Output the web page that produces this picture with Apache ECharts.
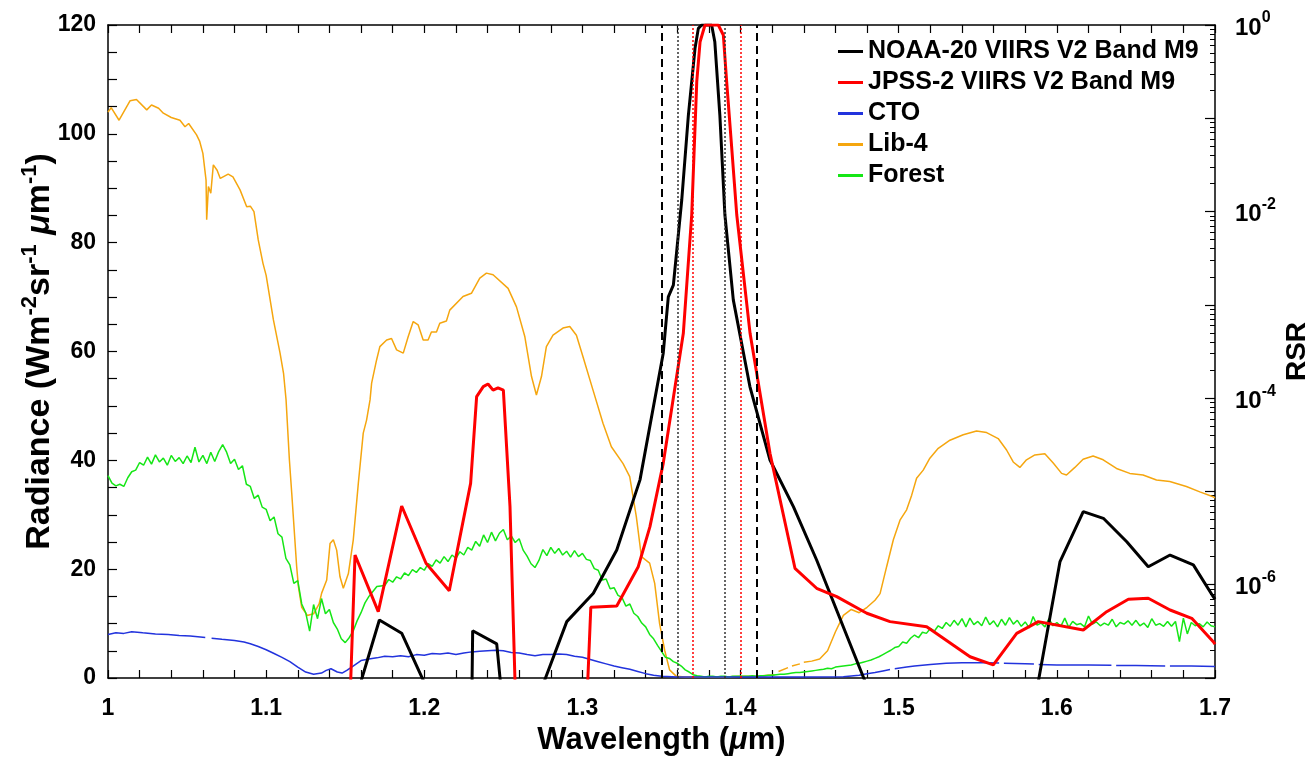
<!DOCTYPE html>
<html>
<head>
<meta charset="utf-8">
<script src="https://cdn.jsdelivr.net/npm/echarts@6/dist/echarts.min.js"></script>
<style>
  html, body { margin: 0; padding: 0; background: #fff; }
  #chart { width: 1314px; height: 759px; }
</style>
</head>
<body>
<div id="chart"></div>
<script>
// ---- Relative spectral response (RSR), right log axis: [wavelength µm, RSR] ----
const noaa20Rsr = [
  [1.1430, 1.0e-8], [1.1716, 4.19e-7], [1.1857, 3.02e-7], [1.2257, 1.0e-8],
  [1.2295, 1.0e-8], [1.2306, 3.21e-7], [1.2458, 2.32e-7], [1.2536, 1.0e-8],
  [1.2650, 3.0e-8], [1.2901, 4.02e-7], [1.3069, 8.09e-7], [1.3217, 2.36e-6],
  [1.3364, 1.33e-5], [1.3511, 3.03e-4], [1.3543, 1.22e-3], [1.3575, 1.63e-3],
  [1.3628, 1.33e-2], [1.3670, 0.108], [1.3712, 0.562], [1.3733, 0.92],
  [1.3754, 1.0], [1.3817, 1.0], [1.3837, 0.662], [1.3869, 0.108],
  [1.3901, 9.19e-3], [1.3954, 1.13e-3], [1.4059, 1.33e-4], [1.4186, 2.17e-5],
  [1.4334, 6.87e-6], [1.4481, 1.84e-6], [1.5014, 1.0e-8],
  [1.5780, 1.0e-8], [1.6020, 1.77e-6], [1.6167, 6.07e-6], [1.6294, 5.15e-6],
  [1.6442, 2.89e-6], [1.6578, 1.56e-6], [1.6716, 2.08e-6], [1.6863, 1.63e-6],
  [1.6989, 7.44e-7], [1.7000, 7.0e-7]
];
const jpss2Rsr = [
  [1.1515, 1.0e-8], [1.1562, 2.08e-6], [1.1709, 5.14e-7], [1.1857, 6.98e-6],
  [1.2011, 1.70e-6], [1.2158, 8.63e-7], [1.2293, 1.22e-5], [1.2331, 1.04e-4],
  [1.2373, 1.33e-4], [1.2403, 1.42e-4], [1.2435, 1.22e-4], [1.2466, 1.29e-4],
  [1.2500, 1.22e-4], [1.2542, 6.87e-6], [1.2590, 1.0e-8],
  [1.3010, 1.0e-8], [1.3053, 5.73e-7], [1.3217, 5.92e-7], [1.3353, 1.56e-6],
  [1.3427, 4.19e-6], [1.3511, 2.00e-5], [1.3638, 4.95e-4], [1.3691, 9.19e-3],
  [1.3723, 0.247], [1.3744, 0.662], [1.3775, 1.0], [1.3859, 1.0],
  [1.3891, 0.781], [1.3912, 0.247], [1.3944, 4.81e-2], [1.3976, 9.19e-3],
  [1.4060, 4.95e-4], [1.4186, 2.56e-5], [1.4344, 1.50e-6], [1.4481, 9.16e-7],
  [1.4608, 7.45e-7], [1.4798, 4.94e-7], [1.4945, 4.02e-7], [1.5177, 3.55e-7],
  [1.5451, 1.69e-7], [1.5598, 1.38e-7], [1.5746, 3.01e-7], [1.5883, 4.02e-7],
  [1.6167, 3.27e-7], [1.6315, 5.14e-7], [1.6452, 6.98e-7], [1.6578, 7.16e-7],
  [1.6716, 5.36e-7], [1.6853, 4.36e-7], [1.6989, 2.45e-7], [1.7000, 2.3e-7]
];

// ---- TOA radiance spectra, left axis: [wavelength µm, W m-2 sr-1 µm-1] ('-' = no data) ----
const ctoRadiance = [
  [1.000, 8.0], [1.005, 8.3], [1.010, 8.2], [1.015, 8.5], [1.022, 8.3], [1.030, 8.1],
  [1.038, 8.0], [1.045, 7.8], [1.052, 7.7], [1.060, 7.5], [1.0615, 7.45], [1.0625, '-'],
  [1.0655, 7.3], [1.072, 7.1], [1.080, 6.9], [1.086, 6.6], [1.090, 6.3], [1.095, 5.8],
  [1.100, 5.2], [1.105, 4.5], [1.110, 3.8], [1.115, 3.0], [1.120, 2.0], [1.125, 1.1],
  [1.130, 0.7], [1.135, 0.9], [1.138, 1.4], [1.141, 1.7], [1.145, 1.1], [1.148, 0.9],
  [1.151, 1.4], [1.155, 2.2], [1.160, 3.2], [1.165, 3.5], [1.170, 3.7], [1.175, 4.0],
  [1.180, 3.9], [1.185, 4.1], [1.190, 3.9], [1.195, 4.3], [1.200, 4.2], [1.205, 4.5],
  [1.210, 4.4], [1.215, 4.6], [1.220, 4.3], [1.225, 4.6], [1.230, 4.8], [1.235, 4.9],
  [1.240, 5.0], [1.245, 5.1], [1.250, 5.0], [1.255, 4.7], [1.260, 4.6], [1.265, 4.3],
  [1.270, 4.1], [1.275, 4.3], [1.280, 4.3], [1.285, 4.4], [1.290, 4.3], [1.295, 4.0],
  [1.300, 3.8], [1.305, 3.4], [1.310, 3.0], [1.315, 2.6], [1.320, 2.2], [1.325, 1.9],
  [1.330, 1.6], [1.335, 1.2], [1.340, 0.8], [1.345, 0.5], [1.350, 0.3], [1.360, 0.2],
  [1.400, 0.2], [1.440, 0.2], [1.465, 0.25], [1.475, 0.5], [1.480, 0.8], [1.485, 1.0],
  [1.490, 1.3], [1.4945, 1.55], [1.4960, '-'], [1.4975, 1.7], [1.505, 2.0], [1.510, 2.2],
  [1.520, 2.5], [1.530, 2.7], [1.540, 2.8], [1.555, 2.8], [1.5635, 2.75], [1.5650, '-'],
  [1.5665, 2.7], [1.580, 2.6], [1.5855, 2.55], [1.5870, '-'], [1.5885, 2.5], [1.600, 2.4],
  [1.620, 2.4], [1.6345, 2.35], [1.6360, '-'], [1.6375, 2.3], [1.650, 2.3], [1.6685, 2.2],
  [1.6700, '-'], [1.6715, 2.2], [1.685, 2.2], [1.700, 2.1]
];
const lib4Radiance = [
  [1.000, 104.0], [1.002, 104.8], [1.007, 102.5], [1.014, 106.1], [1.018, 106.3],
  [1.0245, 104.4], [1.0275, 105.3], [1.032, 104.7], [1.035, 103.8], [1.040, 103.0],
  [1.0455, 102.5], [1.0487, 101.3], [1.051, 101.9], [1.056, 99.8], [1.058, 98.6],
  [1.060, 96.4], [1.062, 91.5], [1.0624, 84.2], [1.0635, 90.3], [1.065, 89.1],
  [1.0666, 94.3], [1.069, 93.3], [1.071, 91.8], [1.076, 92.6], [1.079, 92.1],
  [1.0835, 89.7], [1.0877, 86.6], [1.090, 86.7], [1.0923, 85.7], [1.095, 80.5],
  [1.098, 76.2], [1.100, 74.0], [1.1046, 65.8], [1.1088, 59.7], [1.111, 56.0],
  [1.1126, 51.1], [1.1147, 40.1], [1.1162, 33.9], [1.1193, 20.5], [1.1204, 16.8],
  [1.1225, 13.0], [1.126, 11.5], [1.130, 11.8], [1.1335, 13.6], [1.1351, 15.6],
  [1.1383, 18.0], [1.1404, 24.7], [1.1425, 25.4], [1.1446, 23.5], [1.1467, 18.6],
  [1.1488, 16.5], [1.152, 19.2], [1.1551, 25.4], [1.1583, 35.8], [1.1614, 45.0],
  [1.1635, 47.4], [1.1657, 51.1], [1.1667, 54.2], [1.1698, 58.4], [1.1719, 60.9],
  [1.1762, 62.1], [1.1793, 62.4], [1.1825, 60.3], [1.1867, 59.7], [1.1898, 62.7],
  [1.193, 65.5], [1.1961, 64.9], [1.1993, 62.1], [1.2024, 62.1], [1.2045, 63.6],
  [1.2077, 63.6], [1.2098, 65.2], [1.214, 65.6], [1.2161, 67.6], [1.2245, 70.1],
  [1.2298, 70.7], [1.2351, 73.5], [1.2393, 74.4], [1.2435, 74.1], [1.253, 71.6],
  [1.2583, 68.2], [1.2636, 62.7], [1.2678, 55.4], [1.2709, 52.0], [1.2741, 55.4],
  [1.2772, 60.9], [1.2814, 63.0], [1.2877, 64.3], [1.292, 64.6], [1.2962, 63.0],
  [1.3004, 59.0], [1.3067, 52.9], [1.313, 46.8], [1.3183, 42.5], [1.3257, 39.4],
  [1.3299, 37.0], [1.3341, 29.6], [1.3373, 22.3], [1.3425, 21.1], [1.3457, 17.4],
  [1.3488, 10.0], [1.352, 5.1], [1.3551, 1.5], [1.3594, 0.3], [1.365, 0.2],
  [1.375, 0.2], [1.390, 0.2], [1.400, 0.3], [1.410, 0.3], [1.4215, 0.6],
  [1.4228, '-'], [1.424, 1.2], [1.430, 1.9], [1.4313, '-'], [1.4325, 2.2],
  [1.4375, 2.6], [1.4386, '-'], [1.440, 2.9], [1.445, 3.1], [1.450, 3.5],
  [1.455, 5.0], [1.460, 8.5], [1.465, 11.5], [1.470, 12.6], [1.475, 12.0],
  [1.480, 13.0], [1.485, 14.3], [1.4882, 15.5], [1.4924, 20.5], [1.4966, 25.4],
  [1.5008, 29.0], [1.505, 30.9], [1.5082, 33.6], [1.5113, 36.7], [1.5155, 38.2],
  [1.5197, 40.4], [1.525, 42.2], [1.5324, 43.7], [1.5408, 44.7], [1.5492, 45.4],
  [1.5556, 45.1], [1.5629, 44.0], [1.5682, 41.9], [1.5724, 39.7], [1.5766, 38.7],
  [1.5808, 40.1], [1.5861, 41.0], [1.5924, 41.2], [1.5977, 39.5], [1.603, 37.6],
  [1.6061, 37.3], [1.6114, 38.7], [1.6166, 40.2], [1.6229, 40.8], [1.6293, 40.1],
  [1.6377, 38.5], [1.6461, 37.6], [1.6545, 37.3], [1.663, 36.4], [1.6714, 36.1],
  [1.6819, 35.2], [1.6904, 34.2], [1.6988, 33.3], [1.700, 33.1]
];
// Forest spectrum on a regular 2.5 nm grid starting at 1.0 µm
const forestStart = 1.0;
const forestStep = 0.0025;
const forestRadiance = [
  37.2, 35.8, 35.3, 35.6, 35.2, 36.8, 37.9, 38.2, 39.6, 39.1,
  40.6, 39.3, 41.0, 39.7, 40.4, 39.1, 40.9, 39.8, 40.5, 39.4,
  40.8, 39.6, 42.4, 39.7, 40.9, 39.4, 41.5, 39.8, 41.6, 42.9,
  41.5, 39.4, 40.2, 38.3, 39.0, 35.6, 35.2, 33.0, 33.6, 31.4,
  31.0, 28.9, 29.6, 26.5, 25.9, 22.0, 20.8, 17.4, 17.9, 13.6,
  12.0, 8.6, 13.5, 10.9, 14.6, 11.8, 12.6, 10.2, 9.0, 7.2,
  6.5, 7.4, 8.6, 10.5, 12.0, 13.8, 15.0, 15.9, 16.8, 16.9,
  17.0, 18.1, 17.6, 18.6, 18.2, 19.3, 18.8, 19.9, 19.4, 20.3,
  19.8, 21.0, 20.5, 21.7, 21.1, 22.3, 21.4, 22.6, 22.0, 23.2,
  22.6, 24.0, 23.5, 25.1, 24.2, 26.3, 24.9, 26.8, 25.2, 26.6,
  27.3, 25.4, 26.1, 24.9, 25.6, 23.5, 22.4, 21.0, 20.3, 21.6,
  23.6, 22.5, 24.0, 22.9, 23.8, 22.6, 23.3, 22.2, 23.4, 22.3,
  22.9, 21.8, 21.6, 20.1, 19.8, 18.0, 18.2, 16.4, 16.6, 15.2,
  14.8, 13.2, 13.6, 11.9, 11.3, 10.1, 9.4, 8.0, 7.2, 6.0,
  4.9, 3.8, 3.6, 3.0, 2.7, 2.2, 1.5, 1.1, 0.6, 0.4,
  0.3, 0.2, 0.3, 0.3, 0.2, 0.3, 0.3, 0.2, 0.3, 0.3,
  0.3, 0.3, 0.3, 0.4, 0.3, 0.4, 0.4, 0.5, 0.5, 0.6,
  0.7, 0.7, 0.8, 0.9, 1.0, 1.0, 1.1, 1.2, 1.3, 1.4,
  1.5, 1.6, 1.8, 1.7, 2.0, 2.1, 2.2, 2.3, 2.4, 2.6,
  2.7, 2.9, 3.1, 3.3, 3.6, 3.9, 4.3, 4.7, 5.1, 5.6,
  5.8, 6.6, 6.4, 7.3, 7.9, 7.4, 8.4, 8.2, 9.1, 8.6,
  9.6, 9.1, 10.2, 9.5, 10.6, 9.7, 10.9, 9.4, 11.0, 9.8,
  10.4, 9.6, 11.2, 9.8, 10.5, 9.4, 10.8, 9.7, 11.1, 9.9,
  10.6, 9.5, 10.3, 9.2, 11.3, 9.7, 10.1, 9.4, 10.9, 9.6,
  10.2, 9.5, 11.0, 9.3, 10.4, 9.8, 10.0, 9.4, 11.4, 9.9,
  10.3, 9.6, 10.1, 9.7, 10.8, 9.4, 10.2, 9.9, 10.5, 9.7,
  10.6, 9.6, 10.1, 9.3, 10.9, 9.7, 10.0, 9.5, 10.4, 9.5,
  10.4, 6.7, 11.0, 8.1, 10.2, 9.6, 10.0, 9.4, 10.3, 9.6,
  9.4
];

// Band edge markers (µm)
const outerBandEdges = [1.3516, 1.4055];     // black dashed
const noaa20BandEdges = [1.3628, 1.3908];    // black dotted
const jpss2BandEdges = [1.3697, 1.3986];     // red dotted

// Axis ticks
const radianceLabels = [0, 20, 40, 60, 80, 100, 120];
const rsrMajor = [1e-7, 1e-6, 1e-5, 1e-4, 1e-3, 1e-2, 1e-1, 1];
const rsrLabels = [1e-6, 1e-4, 1e-2, 1];
const rsrMinor = [];
rsrMajor.slice(0, -1).forEach(function (d) {
  for (let k = 2; k <= 9; k++) rsrMinor.push(+(k * d).toPrecision(3));
});

const FONT = '"Liberation Sans", Arial, Helvetica, sans-serif';
const forestData = forestRadiance.map(function (v, i) {
  return [+(forestStart + i * forestStep).toFixed(4), v];
});

const chart = echarts.init(document.getElementById('chart'), null, { renderer: 'canvas' });

const axisLine = { show: true, lineStyle: { color: '#000', width: 1.5 } };

const edgeLine = function (x, color, type, width) {
  return { xAxis: x, lineStyle: { color: color, type: type, width: width } };
};

chart.setOption({
  animation: false,
  backgroundColor: '#fff',
  grid: { left: 108, right: 99, top: 25, bottom: 81, containLabel: false, outerBoundsMode: 'none' },
  legend: {
    orient: 'vertical',
    left: 838,
    top: 39,
    padding: 0,
    icon: 'rect',
    itemWidth: 25,
    itemHeight: 3,
    itemGap: 6,
    textStyle: { fontFamily: FONT, fontWeight: 'bold', fontSize: 25, lineHeight: 24, color: '#000' },
    data: ['NOAA-20 VIIRS V2 Band M9', 'JPSS-2 VIIRS V2 Band M9', 'CTO', 'Lib-4', 'Forest']
  },
  xAxis: [
    {
      type: 'value', min: 1, max: 1.7, interval: 0.02, position: 'bottom',
      name: '{t|Wavelength (}{u|μ}{t|m)}',
      nameLocation: 'middle', nameGap: 47, nameMoveOverlap: false,
      nameTextStyle: {
        color: '#000',
        rich: {
          t: { fontFamily: FONT, fontWeight: 'bold', fontSize: 31, color: '#000' },
          u: { fontFamily: FONT, fontWeight: 'bold', fontStyle: 'italic', fontSize: 31, color: '#000' }
        }
      },
      axisLine: axisLine,
      axisTick: { inside: true, length: 8, lineStyle: { color: '#000', width: 1.2 } },
      axisLabel: {
        margin: 19, color: '#000', fontFamily: FONT, fontWeight: 'bold', fontSize: 23,
        formatter: function (v) {
          const t = Math.round(v * 10) / 10;
          return Math.abs(v - t) < 1e-6 ? String(t) : '';
        }
      },
      splitLine: { show: false }
    },
    {
      type: 'value', min: 1, max: 1.7, interval: 0.02, position: 'top',
      axisLine: axisLine,
      axisTick: { inside: true, length: 8, lineStyle: { color: '#000', width: 1.2 } },
      axisLabel: { show: false },
      splitLine: { show: false }
    }
  ],
  yAxis: [
    {
      type: 'value', min: 0, max: 120, interval: 5, position: 'left',
      name: '{t|Radiance (Wm}{s|-2}{t|sr}{s|-1}{t| }{u|μ}{t|m}{s|-1}{t|)}',
      nameLocation: 'middle', nameRotate: 90, nameGap: 51, nameMoveOverlap: false,
      nameTextStyle: {
        color: '#000',
        rich: {
          t: { fontFamily: FONT, fontWeight: 'bold', fontSize: 34, lineHeight: 38, verticalAlign: 'bottom', color: '#000' },
          u: { fontFamily: FONT, fontWeight: 'bold', fontStyle: 'italic', fontSize: 34, lineHeight: 38, verticalAlign: 'bottom', color: '#000' },
          s: { fontFamily: FONT, fontWeight: 'bold', fontSize: 22, lineHeight: 20, verticalAlign: 'top', color: '#000' }
        }
      },
      axisLine: axisLine,
      axisTick: { inside: true, length: 9, lineStyle: { color: '#000', width: 1.2 } },
      axisLabel: {
        margin: 12, color: '#000', fontFamily: FONT, fontWeight: 'bold', fontSize: 23,
        formatter: function (v) { return radianceLabels.indexOf(v) >= 0 ? String(v) : ''; }
      },
      splitLine: { show: false }
    },
    {
      type: 'log', logBase: 10, min: 1e-7, max: 1, position: 'right',
      name: 'RSR', nameLocation: 'middle', nameRotate: 90, nameGap: 68, nameMoveOverlap: false,
      nameTextStyle: { fontFamily: FONT, fontWeight: 'bold', fontSize: 28, color: '#000' },
      axisLine: axisLine,
      axisTick: { inside: true, length: 10, customValues: rsrMajor, lineStyle: { color: '#000', width: 1.2 } },
      axisLabel: {
        margin: 20, customValues: rsrLabels,
        formatter: function (v) {
          return '{b|10}{s|' + Math.round(Math.log10(v)) + '}';
        },
        rich: {
          b: { fontFamily: FONT, fontWeight: 'bold', fontSize: 24, lineHeight: 30, verticalAlign: 'bottom', color: '#000' },
          s: { fontFamily: FONT, fontWeight: 'bold', fontSize: 16, lineHeight: 16, verticalAlign: 'top', color: '#000' }
        }
      },
      splitLine: { show: false }
    },
    {
      type: 'log', logBase: 10, min: 1e-7, max: 1, position: 'right',
      axisLine: { show: false },
      axisTick: { inside: true, length: 5, customValues: rsrMinor, lineStyle: { color: '#000', width: 1 } },
      axisLabel: { show: false },
      splitLine: { show: false }
    }
  ],
  series: [
    {
      name: 'NOAA-20 VIIRS V2 Band M9', type: 'line', yAxisIndex: 1, z: 4,
      symbol: 'none', clip: true, data: noaa20Rsr,
      lineStyle: { color: '#000', width: 3 }, itemStyle: { color: '#000' }
    },
    {
      name: 'JPSS-2 VIIRS V2 Band M9', type: 'line', yAxisIndex: 1, z: 4,
      symbol: 'none', clip: true, data: jpss2Rsr,
      lineStyle: { color: '#f00', width: 3 }, itemStyle: { color: '#f00' }
    },
    {
      name: 'CTO', type: 'line', yAxisIndex: 0, z: 3,
      symbol: 'none', clip: true, data: ctoRadiance,
      lineStyle: { color: '#2233dd', width: 1.5 }, itemStyle: { color: '#2233dd' },
      markLine: {
        silent: true, symbol: 'none', label: { show: false },
        data: [
          edgeLine(outerBandEdges[0], '#000', [8, 5], 2),
          edgeLine(outerBandEdges[1], '#000', [8, 5], 2),
          edgeLine(noaa20BandEdges[0], '#333', [2, 2], 1.5),
          edgeLine(noaa20BandEdges[1], '#333', [2, 2], 1.5),
          edgeLine(jpss2BandEdges[0], '#f00', [2, 2], 1.5),
          edgeLine(jpss2BandEdges[1], '#f00', [2, 2], 1.5)
        ]
      }
    },
    {
      name: 'Lib-4', type: 'line', yAxisIndex: 0, z: 2,
      symbol: 'none', clip: true, data: lib4Radiance,
      lineStyle: { color: '#f5a60f', width: 1.5 }, itemStyle: { color: '#f5a60f' }
    },
    {
      name: 'Forest', type: 'line', yAxisIndex: 0, z: 2,
      symbol: 'none', clip: true, data: forestData,
      lineStyle: { color: '#16e616', width: 1.5 }, itemStyle: { color: '#16e616' }
    }
  ]
});
</script>
</body>
</html>
